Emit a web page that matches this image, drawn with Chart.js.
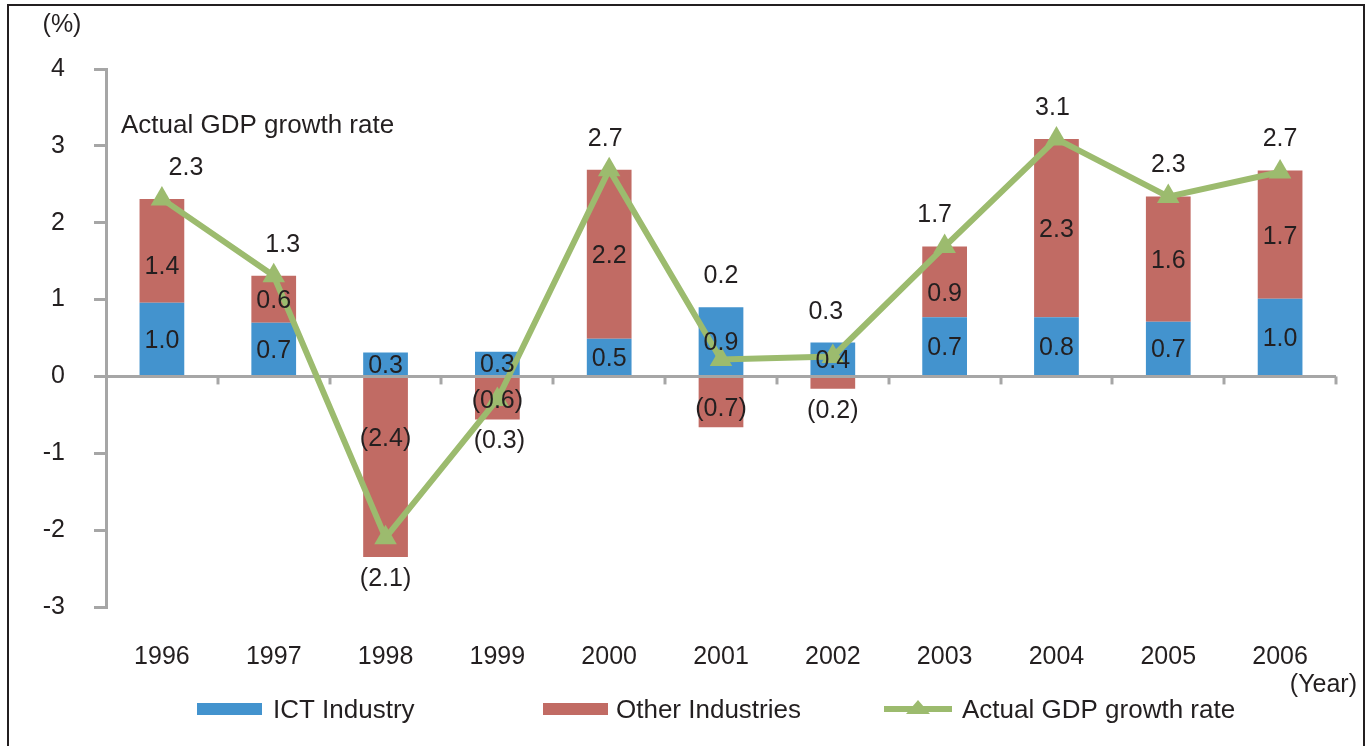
<!DOCTYPE html>
<html>
<head>
<meta charset="utf-8">
<title>GDP growth contribution</title>
<script src="https://cdn.jsdelivr.net/npm/chart.js@4"></script>
<style>
    html, body { margin: 0; padding: 0; background: #fff; }
    #wrap { position: relative; width: 1372px; height: 746px; overflow: hidden; }
    #frame {
        position: absolute; left: 7px; top: 4px; width: 1358px; height: 800px;
        border: 2px solid #231f20; box-sizing: border-box;
    }
    #gdpChart { position: absolute; left: 0; top: 0; }
</style>
</head>
<body>
<div id="wrap">
    <div id="frame"></div>
    <canvas id="gdpChart" width="1372" height="746"></canvas>
</div>
<script>
// ===========================
// Data
// ===========================
const years = ['1996', '1997', '1998', '1999', '2000', '2001', '2002', '2003', '2004', '2005', '2006'];

const ictValues   = [0.96, 0.70, 0.31, 0.32, 0.49, 0.90, 0.44, 0.77, 0.77, 0.71, 1.01];
const otherValues = [1.35, 0.61, -2.35, -0.56, 2.20, -0.66, -0.16, 0.92, 2.32, 1.63, 1.67];
const gdpValues   = [2.31, 1.31, -2.10, -0.30, 2.69, 0.22, 0.26, 1.69, 3.09, 2.34, 2.66];

// printed labels, as they appear on the chart
const ictLabels   = ['1.0', '0.7', '0.3', '0.3', '0.5', '0.9', '0.4', '0.7', '0.8', '0.7', '1.0'];
const otherLabels = ['1.4', '0.6', '(2.4)', '(0.6)', '2.2', '(0.7)', '(0.2)', '0.9', '2.3', '1.6', '1.7'];
const gdpLabels   = ['2.3', '1.3', '(2.1)', '(0.3)', '2.7', '0.2', '0.3', '1.7', '3.1', '2.3', '2.7'];

const yTicks = [-3, -2, -1, 0, 1, 2, 3, 4];

// --- Styles ---
const COLORS = {
    ict: '#4393ce',
    other: '#c16b64',
    gdp: '#9cbb6e',
    axis: '#a6a6a6',
    text: '#231f20'
};
const FONT = "'Liberation Sans', Arial, Helvetica, sans-serif";

// small label nudges (px) so text clears the line markers, like the original
const otherLabelShift = { 0: 14, 2: -30, 7: 10, 5: 5, 6: 26 };
const gdpLabelShiftX = { 0: 24, 1: 9, 3: 2, 6: -7, 7: -10, 4: -4, 8: -4 };

// --- Labels, axis ticks and legend plugin ---
const decorPlugin = {
    id: 'decor',
    afterDatasetsDraw(chart) {
        const ctx = chart.ctx;
        const xScale = chart.scales.x;
        const yScale = chart.scales.y;
        const ictMeta = chart.getDatasetMeta(1);
        const otherMeta = chart.getDatasetMeta(2);
        const gdpMeta = chart.getDatasetMeta(0);

        ctx.save();

        // category tick marks on the zero line
        const zeroY = yScale.getPixelForValue(0);
        const step = xScale.getPixelForValue(1) - xScale.getPixelForValue(0);
        ctx.strokeStyle = COLORS.axis;
        ctx.lineWidth = 3;
        for (let i = 0; i < years.length; i++) {
            const x = Math.round(xScale.getPixelForValue(i) + step / 2);
            ctx.beginPath();
            ctx.moveTo(x, zeroY);
            ctx.lineTo(x, zeroY + 8);
            ctx.stroke();
        }

        ctx.fillStyle = COLORS.text;
        ctx.font = `25px ${FONT}`;
        ctx.textAlign = 'center';
        ctx.textBaseline = 'middle';

        // bar segment labels
        years.forEach((_, i) => {
            const ib = ictMeta.data[i];
            ctx.fillText(ictLabels[i], ib.x, (ib.y + ib.base) / 2 + 2);
            const ob = otherMeta.data[i];
            ctx.fillText(otherLabels[i], ob.x, (ob.y + ob.base) / 2 + 2 + (otherLabelShift[i] || 0));
        });

        // GDP labels: above the highest mark, or below the lowest for negatives
        years.forEach((_, i) => {
            const p = gdpMeta.data[i];
            const ob = otherMeta.data[i];
            const ib = ictMeta.data[i];
            const dx = gdpLabelShiftX[i] || 0;
            let y;
            if (gdpValues[i] >= 0) {
                const top = Math.min(p.y, ib.y, ob.y);
                y = top - 31;
            } else {
                const bottom = Math.max(p.y, ib.base, ob.y);
                y = bottom + 22;
            }
            ctx.fillText(gdpLabels[i], p.x + dx, y);
        });

        // unit texts and annotation
        ctx.fillText('(%)', 62, 25);
        ctx.textAlign = 'right';
        ctx.fillText('(Year)', 1357, 685);
        ctx.font = `26px ${FONT}`;
        ctx.textAlign = 'left';
        ctx.fillText('Actual GDP growth rate', 121, 126);

        // legend
        const ly = 711;
        ctx.fillStyle = COLORS.ict;
        ctx.fillRect(197, 703, 65, 12);
        ctx.fillStyle = COLORS.other;
        ctx.fillRect(543, 703, 65, 12);
        ctx.strokeStyle = COLORS.gdp;
        ctx.lineWidth = 6;
        ctx.beginPath();
        ctx.moveTo(884, 709);
        ctx.lineTo(952, 709);
        ctx.stroke();
        ctx.fillStyle = COLORS.gdp;
        ctx.beginPath();
        ctx.moveTo(918, 700);
        ctx.lineTo(930, 714);
        ctx.lineTo(906, 714);
        ctx.closePath();
        ctx.fill();

        ctx.fillStyle = COLORS.text;
        ctx.fillText('ICT Industry', 273, ly);
        ctx.fillText('Other Industries', 616, ly);
        ctx.fillText('Actual GDP growth rate', 962, ly);

        ctx.restore();
    }
};

// --- Chart ---
const chart = new Chart(document.getElementById('gdpChart'), {
    type: 'bar',
    data: {
        labels: years,
        datasets: [
            {
                type: 'line',
                label: 'Actual GDP growth rate',
                data: gdpValues,
                stack: 'gdp',
                borderColor: COLORS.gdp,
                backgroundColor: COLORS.gdp,
                borderWidth: 6,
                pointStyle: 'triangle',
                pointRadius: 13,
                pointBorderWidth: 0,
                tension: 0,
                order: 0
            },
            {
                label: 'ICT Industry',
                data: ictValues,
                stack: 'parts',
                backgroundColor: COLORS.ict,
                barPercentage: 1,
                categoryPercentage: 0.4,
                order: 1
            },
            {
                label: 'Other Industries',
                data: otherValues,
                stack: 'parts',
                backgroundColor: COLORS.other,
                barPercentage: 1,
                categoryPercentage: 0.4,
                order: 1
            }
        ]
    },
    options: {
        responsive: false,
        animation: false,
        layout: { padding: { top: 69, right: 36, left: 0, bottom: 0 } },
        plugins: {
            legend: { display: false },
            tooltip: { enabled: false }
        },
        scales: {
            x: {
                stacked: true,
                offset: true,
                grid: { display: false, drawTicks: false },
                border: { display: false },
                ticks: {
                    color: COLORS.text,
                    font: { family: FONT, size: 25 },
                    padding: 35,
                    maxRotation: 0
                },
                afterFit: (s) => { s.height = 139; }
            },
            y: {
                stacked: true,
                min: -3,
                max: 4,
                afterBuildTicks: (s) => { s.ticks = yTicks.map(v => ({ value: v })); },
                border: { color: COLORS.axis, width: 3 },
                grid: {
                    color: (c) => (c.tick && c.tick.value === 0 ? COLORS.axis : 'rgba(0,0,0,0)'),
                    lineWidth: 3,
                    tickColor: COLORS.axis,
                    tickLength: 12,
                    drawTicks: true
                },
                ticks: {
                    color: COLORS.text,
                    font: { family: FONT, size: 25 },
                    padding: 29
                },
                afterFit: (s) => { s.width = 106; }
            }
        }
    },
    plugins: [decorPlugin]
});
</script>
</body>
</html>
